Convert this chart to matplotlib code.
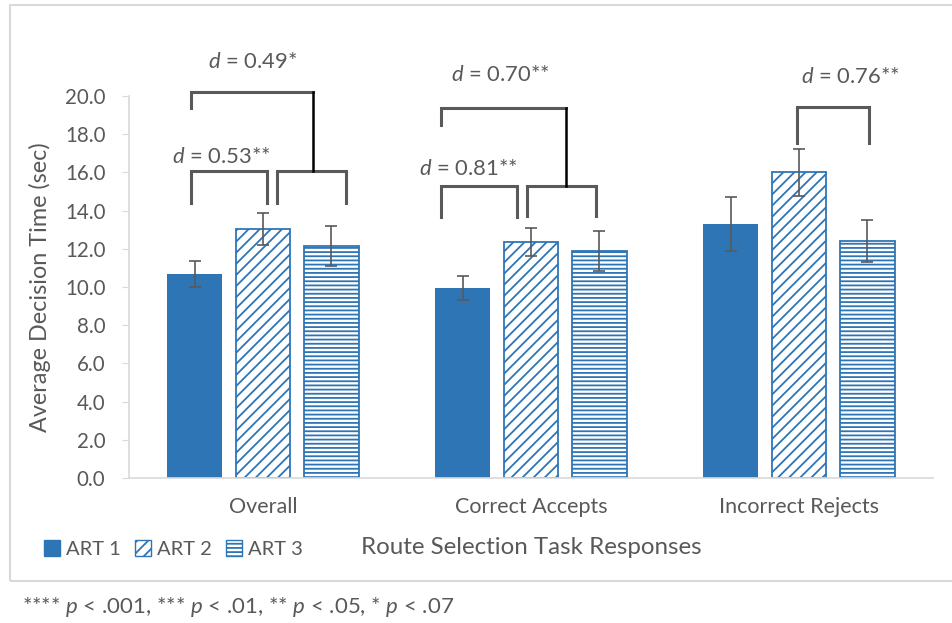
import matplotlib.pyplot as plt
import numpy as np
from matplotlib.patches import Rectangle, Patch

plt.rcParams['font.family'] = ['Lato', 'DejaVu Sans']
plt.rcParams['mathtext.fontset'] = 'custom'
plt.rcParams['mathtext.it'] = 'Lato:italic'
plt.rcParams['mathtext.rm'] = 'Lato'
plt.rcParams['hatch.linewidth'] = 1.3

categories = ['Overall', 'Correct Accepts', 'Incorrect Rejects']
series = ['ART 1', 'ART 2', 'ART 3']
art1 = [10.7, 9.95, 13.3]
art1_err = [0.68, 0.65, 1.4]
art2 = [13.05, 12.35, 16.0]
art2_err = [0.83, 0.74, 1.24]
art3 = [12.15, 11.9, 12.4]
art3_err = [1.03, 1.05, 1.1]

# effect size labels: (text, x, y)
effects = [
    ('0.49*', -0.04, 21.8),
    ('0.53**', -0.155, 16.8),
    ('0.70**', 0.887, 21.1),
    ('0.81**', 0.766, 16.2),
    ('0.76**', 2.19, 21.0),
]
# brackets: (x_left, x_right, y_top, y_left_end, y_right_end)
brackets = [
    (-0.27, 0.014, 16.05, 14.4, 14.4),
    (0.051, 0.309, 16.05, 14.4, 14.4),
    (-0.27, 0.188, 20.2, 19.35, 20.2),
    (0.663, 0.949, 15.3, 13.65, 13.65),
    (0.986, 1.243, 15.3, 13.7, 13.7),
    (0.663, 1.129, 19.35, 18.5, 19.35),
    (1.994, 2.261, 19.45, 17.55, 17.55),
]
# black connectors between upper and lower brackets: (x, y_top, y_bottom)
connectors = [(0.188, 20.2, 16.05), (1.129, 19.35, 15.3)]

blue = '#2E75B6'
gray = '#595959'

fig = plt.figure(figsize=(9.52, 6.23), dpi=100)
ax = fig.add_axes([129/952, 1 - 478/623, 804/952, 382/623])

x = np.arange(len(categories))
w = 0.205
step = 0.254
ekw = dict(ecolor=gray, elinewidth=1.2, capsize=4, capthick=1.2)

ax.bar(x - step, art1, w, color=blue, yerr=art1_err, error_kw=ekw, label=series[0])
ax.bar(x, art2, w, color='white', edgecolor=blue, linewidth=1.3, hatch='///',
       yerr=art2_err, error_kw=ekw, label=series[1])
ax.bar(x + step, art3, w, color='white', edgecolor=blue, linewidth=1.3, hatch='----',
       yerr=art3_err, error_kw=ekw, label=series[2])

for x0, x1, yt, yl, yr in brackets:
    ax.plot([x0, x0, x1, x1], [yl, yt, yt, yr], color=gray, lw=2.2,
            solid_joinstyle='miter', clip_on=False)
for cx, y0, y1 in connectors:
    ax.plot([cx, cx], [y0, y1], color='black', lw=1.8, clip_on=False)
for txt, tx, ty in effects:
    ax.text(tx, ty, r'$\mathit{d}$ = ' + txt, ha='center', va='center',
            fontsize=15.8, color=gray, clip_on=False)

ax.set_xlim(-0.5, 2.5)
ax.set_ylim(0, 20)
ax.set_yticks(np.arange(0, 21, 2))
ax.set_yticklabels([f'{v:.1f}' for v in np.arange(0, 21, 2)])
ax.set_xticks(x)
ax.set_xticklabels(categories)
ax.tick_params(axis='x', length=0, pad=14, labelsize=15.5, labelcolor=gray)
ax.tick_params(axis='y', length=5, color='#d9d9d9', pad=12, labelsize=14.8, labelcolor=gray)
for s in ['top', 'right']:
    ax.spines[s].set_visible(False)
for s in ['left', 'bottom']:
    ax.spines[s].set_color('#d9d9d9')
    ax.spines[s].set_linewidth(1.2)

ax.set_ylabel('Average Decision Time (sec)', fontsize=16.8, color=gray)
ax.yaxis.set_label_coords(-0.097, 0.5)

handles = [Patch(facecolor=blue, edgecolor=blue),
           Patch(facecolor='white', edgecolor=blue, hatch='///'),
           Patch(facecolor='white', edgecolor=blue, hatch='----')]
fig.legend(handles, series, loc='center left', bbox_to_anchor=(26/952, 1 - 549/623),
           ncol=3, frameon=False, fontsize=14.5, labelcolor=gray, handlelength=0.8,
           handleheight=0.8, handletextpad=0.3, columnspacing=0.7)

fig.text(531/952, 1 - 548/623, 'Route Selection Task Responses', ha='center', va='center',
         fontsize=17.4, color=gray)
fig.text(22/952, 1 - 607/623,
         r'**** $\mathit{p}$ < .001, *** $\mathit{p}$ < .01, ** $\mathit{p}$ < .05, * $\mathit{p}$ < .07',
         ha='left', va='center', fontsize=16, color=gray)

fig.patches.append(Rectangle((10/952, 1 - 581/623), 1.0, 576/623, transform=fig.transFigure,
                             fill=False, edgecolor='#d9d9d9', linewidth=1.5))

fig.savefig('out.png', dpi=100)
